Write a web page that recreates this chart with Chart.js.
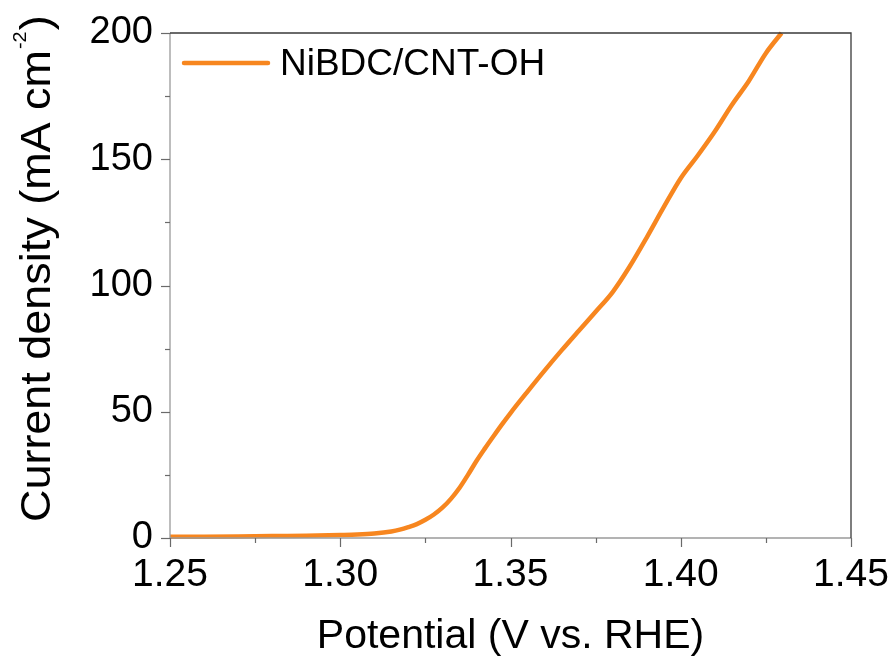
<!DOCTYPE html>
<html>
<head>
<meta charset="utf-8">
<script src="https://cdn.jsdelivr.net/npm/chart.js@4/dist/chart.umd.min.js"></script>
<style>
  html, body { margin: 0; padding: 0; background: #ffffff; }
  #wrap { width: 896px; height: 664px; position: relative; }
</style>
</head>
<body>
<div id="wrap"><canvas id="c" width="896" height="664"></canvas></div>
<script>
// ---- data ----
const seriesLabel = "NiBDC/CNT-OH";
const potential = [1.250, 1.260, 1.270, 1.280, 1.290, 1.300, 1.305, 1.310, 1.315, 1.3175, 1.320, 1.3225, 1.325, 1.3275, 1.330, 1.3325, 1.335, 1.3375, 1.340, 1.3425, 1.345, 1.3475, 1.350, 1.355, 1.360, 1.365, 1.370, 1.375, 1.380, 1.385, 1.390, 1.395, 1.400, 1.405, 1.410, 1.415, 1.420, 1.425, 1.4296];
const currentDensity = [0.5, 0.5, 0.6, 0.8, 0.9, 1.2, 1.4, 1.8, 2.6, 3.3, 4.3, 5.5, 7.2, 9.3, 12.0, 15.5, 19.8, 25.0, 30.5, 35.5, 40.3, 45.0, 49.5, 58.0, 66.3, 74.3, 82.0, 89.6, 97.4, 107.5, 119.0, 131.0, 142.5, 151.5, 161.0, 171.5, 181.0, 192.0, 200.0];
const xTicks = [1.25, 1.30, 1.35, 1.40, 1.45];
const yTicks = [0, 50, 100, 150, 200];
const xMinorStep = 0.025;
const yMinorStep = 25;
const xTitle = "Potential (V vs. RHE)";
const yTitleMain = "Current density (mA cm";
const yTitleSup = "-2";
const yTitleEnd = ")";

const FONT = "'Liberation Sans', Arial, Helvetica, sans-serif";
const lineColor = "#F7861F";

const points = potential.map((v, i) => ({ x: v, y: currentDensity[i] }));

function zeroPad(s) { s.paddingLeft = 0; s.paddingRight = 0; s.paddingTop = 0; s.paddingBottom = 0; }

const framePlugin = {
  id: 'frame',
  afterDraw(chart) {
    const ctx = chart.ctx;
    const a = chart.chartArea;
    const xs = chart.scales.x, ys = chart.scales.y;
    ctx.save();
    // axes frame
    ctx.lineWidth = 1.3;
    ctx.strokeStyle = '#9a9a9a';
    ctx.beginPath();
    ctx.moveTo(a.left, a.top); ctx.lineTo(a.left, a.bottom); ctx.lineTo(a.right, a.bottom);
    ctx.stroke();
    ctx.strokeStyle = '#3a3a3a';
    ctx.beginPath();
    ctx.moveTo(a.left, a.top); ctx.lineTo(a.right, a.top); ctx.lineTo(a.right, a.bottom);
    ctx.stroke();
    // ticks (major + minor), outward
    ctx.strokeStyle = '#6a6a6a';
    ctx.lineWidth = 1.2;
    const xmin = xTicks[0], xmax = xTicks[xTicks.length - 1];
    const nX = Math.round((xmax - xmin) / xMinorStep);
    for (let i = 0; i <= nX; i++) {
      const v = xmin + i * xMinorStep;
      const px = Math.round(xs.getPixelForValue(v)) + 0.5;
      const len = (i % 2 === 0) ? 9 : 5;
      ctx.beginPath(); ctx.moveTo(px, a.bottom); ctx.lineTo(px, a.bottom + len); ctx.stroke();
    }
    const ymin = yTicks[0], ymax = yTicks[yTicks.length - 1];
    const nY = Math.round((ymax - ymin) / yMinorStep);
    for (let i = 0; i <= nY; i++) {
      const v = ymin + i * yMinorStep;
      const py = Math.round(ys.getPixelForValue(v)) + 0.5;
      const len = (i % 2 === 0) ? 9 : 5;
      ctx.beginPath(); ctx.moveTo(a.left, py); ctx.lineTo(a.left - len, py); ctx.stroke();
    }
    // legend
    const ds = chart.data.datasets[0];
    ctx.strokeStyle = ds.borderColor;
    ctx.lineWidth = 4.5;
    ctx.lineCap = 'round';
    ctx.beginPath(); ctx.moveTo(184, 63); ctx.lineTo(268, 63); ctx.stroke();
    ctx.fillStyle = '#000';
    ctx.font = '37px ' + FONT;
    ctx.textAlign = 'left';
    ctx.textBaseline = 'alphabetic';
    ctx.fillText(ds.label, 280, 75);
    // y axis title with superscript
    ctx.translate(50, 522);
    ctx.rotate(-Math.PI / 2);
    ctx.scale(1.045, 1);
    ctx.font = '43px ' + FONT;
    ctx.fillText(yTitleMain, 0, 0);
    let w = ctx.measureText(yTitleMain).width;
    ctx.font = '19px ' + FONT;
    ctx.fillText(yTitleSup, w + 1, -24);
    w += ctx.measureText(yTitleSup).width + 2;
    ctx.font = '43px ' + FONT;
    ctx.fillText(yTitleEnd, w, 0);
    ctx.restore();
  }
};

new Chart(document.getElementById('c'), {
  type: 'line',
  data: {
    datasets: [{
      label: seriesLabel,
      data: points,
      borderColor: lineColor,
      backgroundColor: lineColor,
      borderWidth: 4.5,
      pointRadius: 0,
      cubicInterpolationMode: 'monotone',
      fill: false,
      clip: 4
    }]
  },
  options: {
    responsive: false,
    animation: false,
    events: [],
    layout: { padding: { top: 33, right: 45, left: 0, bottom: 0 } },
    plugins: { legend: { display: false }, tooltip: { enabled: false } },
    scales: {
      x: {
        type: 'linear',
        min: xTicks[0], max: xTicks[xTicks.length - 1],
        afterFit(s) { s.height = 126; zeroPad(s); },
        afterBuildTicks(s) { s.ticks = xTicks.map(v => ({ value: v })); },
        grid: { display: false, drawTicks: false },
        border: { display: false },
        ticks: {
          padding: 14,
          color: '#000',
          font: { family: FONT, size: 39 },
          maxRotation: 0,
          callback: v => Number(v).toFixed(2)
        },
        title: {
          display: true,
          text: xTitle,
          color: '#000',
          font: { family: FONT, size: 41 },
          padding: { top: 0, bottom: 3 }
        }
      },
      y: {
        type: 'linear',
        min: yTicks[0], max: yTicks[yTicks.length - 1],
        afterFit(s) { s.width = 170; zeroPad(s); },
        afterBuildTicks(s) { s.ticks = yTicks.map(v => ({ value: v })); },
        grid: { display: false, drawTicks: false },
        border: { display: false },
        ticks: {
          padding: 17,
          color: '#000',
          font: { family: FONT, size: 38 },
          callback: v => String(v)
        }
      }
    }
  },
  plugins: [framePlugin]
});
</script>
</body>
</html>
